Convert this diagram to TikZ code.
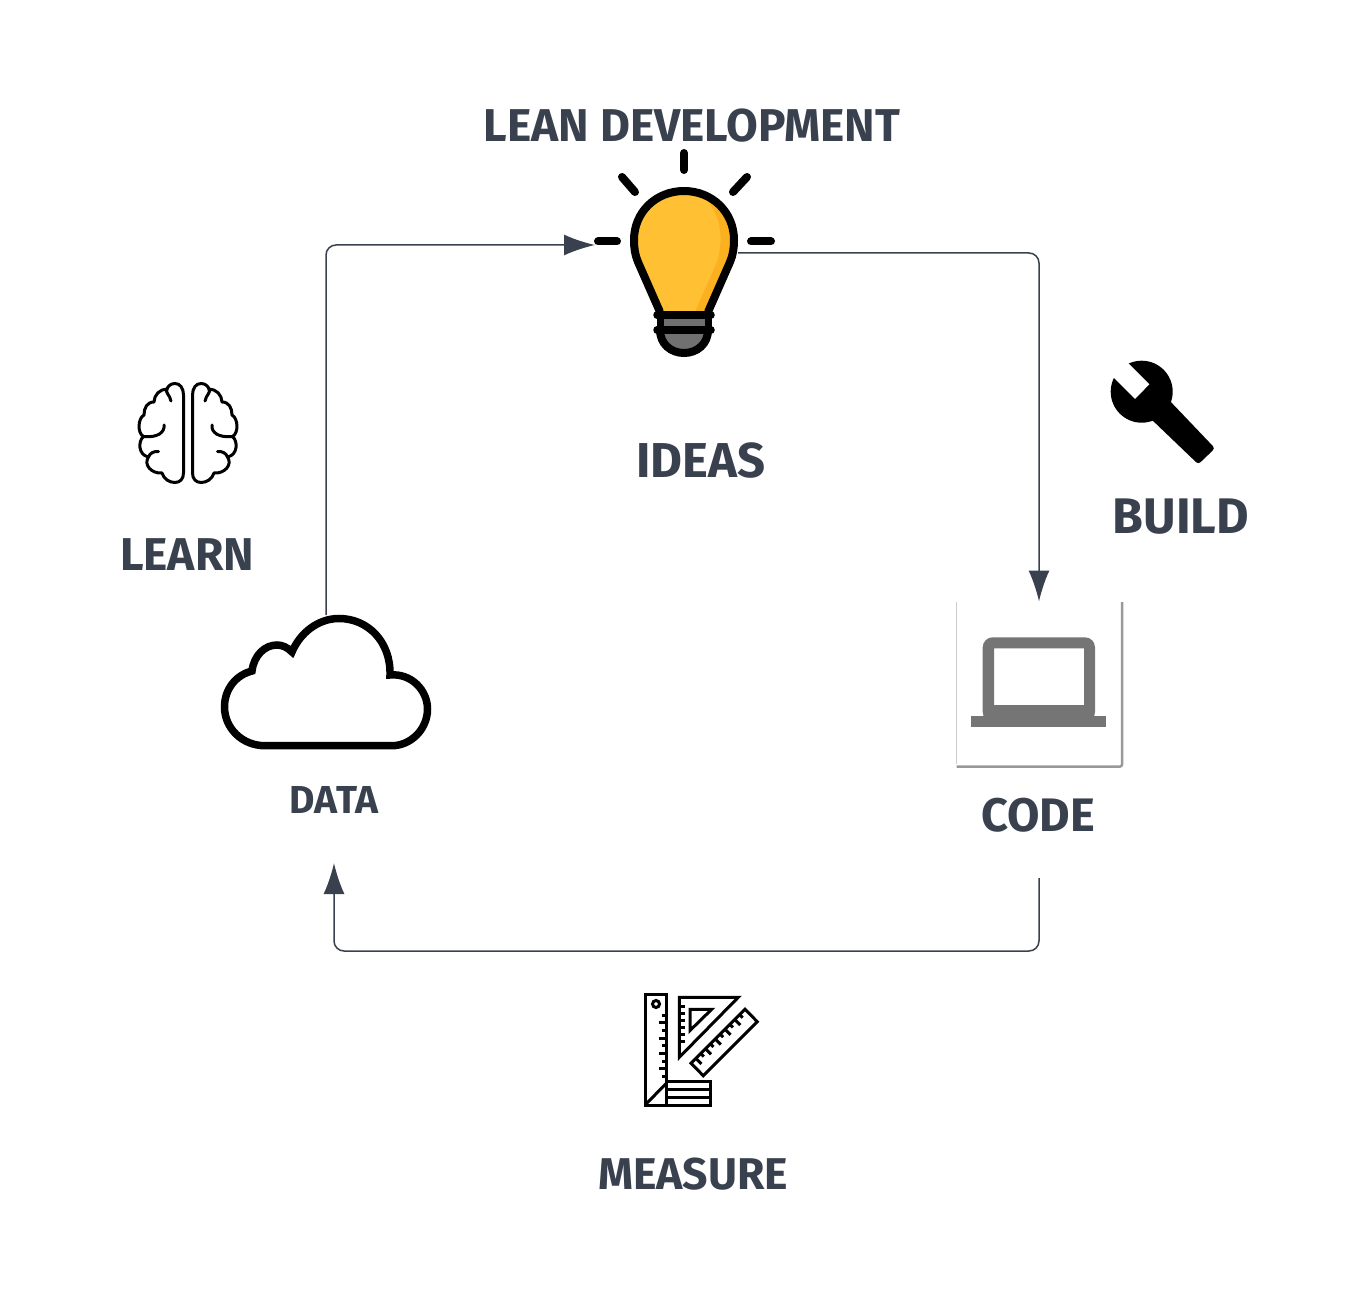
\documentclass[tikz,border=0pt]{standalone}
\usepackage{fontspec}
\setmainfont{Fira Sans}
\usetikzlibrary{arrows.meta}
\definecolor{inkblue}{RGB}{58,65,78}
\definecolor{bulbyellow}{RGB}{255,192,51}
\definecolor{bulbshade}{RGB}{251,176,32}
\definecolor{basegray}{RGB}{112,112,112}
\definecolor{laptopgray}{RGB}{117,117,117}
\tikzset{
  caption/.style={text=inkblue, inner sep=0pt, font=\bfseries\fontsize{#1}{48}\selectfont},
  caption/.default=46,
  slot/.style={inner sep=0pt, outer sep=0pt, minimum width=#1},
  flow/.style={draw=inkblue, line width=1.5pt, rounded corners=10pt, -{Latex[length=31pt,width=21pt]}},
  thinicon/.style={draw=black, line width=3pt, line cap=round, line join=round},
  pics/brainhalf/.style={
    code={
      \path [pic actions] (-4.5,-38) .. controls (-4.5,-45) and (-8,-49.5) .. (-13,-49.5)
        .. controls (-17,-49.5) and (-20,-47) .. (-21,-44)
        .. controls (-28,-44) and (-34,-38) .. (-34,-31)
        .. controls (-41,-31) and (-44,-25) .. (-44,-18)
        .. controls (-50,-15) and (-51,0) .. (-44.5,3.5)
        .. controls (-50,8) and (-50,22) .. (-39.5,24)
        .. controls (-45,32) and (-36,41) .. (-26,40)
        .. controls (-24,46) and (-19,49.5) .. (-13,49.5)
        .. controls (-8,49.5) and (-4.5,46) .. (-4.5,40) -- cycle;
      \path [pic actions] (-21,-44) .. controls (-23,-40) and (-18,-38) .. (-17,-32);
      \path [pic actions] (-24,-8) .. controls (-23,-1) and (-30,5) .. (-44.5,3.5);
      \path [pic actions] (-29.5,18.5) .. controls (-34,18) and (-38,20) .. (-39.5,24);
    }
  }
}

\begin{document}
\begin{tikzpicture}[x=1pt, y=-1pt]
  \useasboundingbox (0,0) rectangle (1369,1313);

  % anchors of the three stations
  \node [slot=178pt] (bulb) at (684,245) {};
  \node [slot=108pt] (glass) at (684,253) {};
  \node [slot=210pt, minimum height=134pt] (cloud) at (326,682) {};
  \node [slot=166pt, minimum height=165pt] (laptop) at (1039,684) {};

  \node [caption] (title) at (692,126) {LEAN DEVELOPMENT};
  \node [caption=49] (ideas) at (701,461) {IDEAS};
  \node [caption=46] (learn) at (187,555) {LEARN};
  \node [caption=50] (buildlabel) at (1181,517) {BUILD};
  \node [caption=39] (data) at (334,800) {DATA};
  \node [caption=47] (code) at (1038,815) {CODE};
  \node [caption=44.5] (measure) at (693,1174) {MEASURE};

  \coordinate (codeout) at (1039,878);
  \coordinate (datain) at (334,863);

  \draw [flow] (cloud.north) |- (bulb.west);
  \draw [flow] (glass.east) -| (laptop.north);
  \draw [flow] (codeout) |- (datain |- 0,951) -- (datain);

  % bulb
  \foreach \x/\y/\u/\v in {684/153/684/170, 622/177/635/192, 747/177/733/192, 598/241.5/617/241.5, 751/241.5/771/241.5} {
    \draw [line width=8pt, line cap=round] (\x,\y) -- (\u,\v);
  }
  \fill [bulbyellow] (660,312) -- (638,262) .. controls (635,255) and (634,248) .. (634,240)
    .. controls (634,212) and (656,191) .. (684,191) .. controls (712,191) and (734,212) .. (734,240)
    .. controls (734,248) and (733,255) .. (730,262) -- (708,312) -- cycle;
  \fill [bulbshade] (695,312) -- (717,262) .. controls (724,240) and (722,212) .. (700,193)
    .. controls (720,197) and (734,218) .. (734,240) .. controls (734,248) and (733,255) .. (730,262) -- (708,312) -- cycle;
  \draw [line width=8pt, line join=round] (660,312) -- (638,262) .. controls (635,255) and (634,248) .. (634,240)
    .. controls (634,212) and (656,191) .. (684,191) .. controls (712,191) and (734,212) .. (734,240)
    .. controls (734,248) and (733,255) .. (730,262) -- (708,312);
  \fill [basegray] (660,315) rectangle (708,330);
  \draw [fill=basegray, line width=8pt] (660,330) .. controls (660,344) and (671,353) .. (684,353)
    .. controls (697,353) and (708,344) .. (708,330);
  \draw [line width=7pt] (660,315) -- (660,330) (708,315) -- (708,330);
  \draw [line width=7.5pt, line cap=round] (657,315) -- (711,315);
  \draw [line width=7.5pt, line cap=round] (657,330) -- (711,330);

  % brain
  \pic [thinicon] at (188,433) {brainhalf};
  \pic [thinicon, xscale=-1] at (188,433) {brainhalf};

  % wrench
  \fill (1141.7,391.7) circle [radius=31];
  \fill [rounded corners=3pt] (1168,399) -- (1215,448.3) -- (1198.3,464.3) -- (1150,418) -- cycle;
  \fill [white] (1149.3,384.3) -- (1135,399) -- (1098,362) -- (1112,347) -- cycle;

  % cloud
  \draw [line width=7.5pt] (265,745.7) .. controls (242,745.7) and (224.5,728) .. (224.5,707)
    .. controls (224.5,689) and (236,675) .. (252,671) .. controls (254,655) and (265,645) .. (277,645)
    .. controls (282,645) and (287,647) .. (292,652) .. controls (300,633) and (318,618.5) .. (339,618.5)
    .. controls (368,618.5) and (391,642) .. (390,675) .. controls (411,673) and (427.5,690) .. (427.5,709)
    .. controls (427.5,730) and (410,745.7) .. (392,745.7) -- cycle;

  % laptop
  \draw [black!20, line width=1pt] (956.5,602) -- (956.5,764);
  \draw [black!40, line width=2.5pt, rounded corners=2pt] (1122,602) -- (1122,766.5) -- (956.5,766.5);
  \fill [laptopgray, even odd rule, rounded corners=0pt] (994,648.3) rectangle (1084,705)
    [rounded corners=10pt] (982.7,637.3) rectangle (1095,722);
  \fill [laptopgray] (971,716) rectangle (1106.3,727.3);

  % measure
  \begin{scope}[thinicon, line cap=butt, line join=miter]
    \draw (645,994) rectangle (666.7,1105);
    \draw (666.7,1081.7) rectangle (710,1105);
    \draw (666.7,1089.5) -- (710,1089.5) (666.7,1097.3) -- (710,1097.3);
    \draw (646,1104) -- (666.7,1083);
    \draw (656,1004) circle [radius=3.5];
    \foreach \y [count=\n] in {1015,1022.7,...,1078} {
      \pgfmathsetmacro{\tick}{isodd(\n) ? 5 : 8}
      \draw (666.7,\y) -- ++(-\tick,0);
    }
    \draw (679.3,997.3) -- (738.3,997.3) -- (679.3,1057.3) -- cycle;
    \draw (690,1009.3) -- (711.7,1009.3) -- (690,1030.5) -- cycle;
    \foreach \y in {1006.5,1013.5,...,1042} {
      \draw (679.3,\y) -- ++(5.5,0);
    }
    \draw (745,1009.3) -- (757.3,1021.7) -- (703.3,1075.7) -- (691,1063.3) -- cycle;
    \foreach \t [count=\n] in {0.1,0.19,...,0.92} {
      \pgfmathsetmacro{\tick}{isodd(\n) ? 3 : 5.5}
      \draw ({745-54*\t},{1009.3+54*\t}) -- ++(\tick,\tick);
    }
  \end{scope}
\end{tikzpicture}
\end{document}
